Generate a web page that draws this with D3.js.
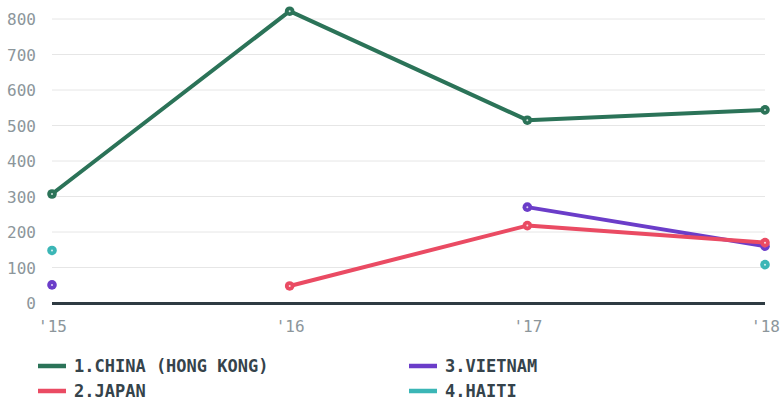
<!DOCTYPE html>
<html>
<head>
<meta charset="utf-8">
<script src="https://cdn.jsdelivr.net/npm/d3@7"></script>
<style>
  body { margin: 0; background: #fff; }
  svg { display: block; }
  .tick text { font-family: "DejaVu Sans Mono", monospace; fill: #8c969b; }
  .legend text { font-family: "DejaVu Sans Mono", monospace; font-weight: bold; fill: #35434b; }
</style>
</head>
<body>
<div id="chart"></div>
<script>
const width = 780;
const height = 403;

// years on the x axis
const years = [2015, 2016, 2017, 2018];
const yearLabels = ["'15", "'16", "'17", "'18"];
const yTicks = [0, 100, 200, 300, 400, 500, 600, 700, 800];

// series values, null = no data
const china = [307, 822, 515, 544];
const japan = [null, 48, 218, 170];
const vietnam = [51, null, 270, 160];
const haiti = [148, null, null, 108];

const seriesNames = ["1.CHINA (HONG KONG)", "2.JAPAN", "3.VIETNAM", "4.HAITI"];
const seriesColors = ["#2b7358", "#ea4b63", "#6b3dc9", "#3bb6b6"];

const series = [
  { name: seriesNames[0], color: seriesColors[0], values: china },
  { name: seriesNames[1], color: seriesColors[1], values: japan },
  { name: seriesNames[2], color: seriesColors[2], values: vietnam },
  { name: seriesNames[3], color: seriesColors[3], values: haiti }
];

const margin = { left: 52, right: 15, top: 19, bottom: 100 };

const x = d3.scalePoint()
  .domain(years)
  .range([margin.left, width - margin.right]);

const y = d3.scaleLinear()
  .domain([0, 800])
  .range([303, 19]);

const svg = d3.select('#chart')
  .append('svg')
  .attr('width', width)
  .attr('height', height);

// grid lines
svg.append('g')
  .selectAll('line')
  .data(yTicks.filter(d => d > 0))
  .join('line')
  .attr('x1', x(2015))
  .attr('x2', x(2018))
  .attr('y1', d => y(d))
  .attr('y2', d => y(d))
  .attr('stroke', '#e6e6e6')
  .attr('stroke-width', 1);

// y axis labels
const yAxis = svg.append('g')
  .attr('transform', `translate(${x(2015) - 16},0)`)
  .call(d3.axisLeft(y).tickValues(yTicks).tickSize(0).tickPadding(0));
yAxis.select('.domain').remove();
yAxis.selectAll('text').attr('font-size', 16).attr('dy', '0.35em');

// x axis labels
const xAxis = svg.append('g')
  .attr('transform', `translate(0,${y(0) + 18})`)
  .call(d3.axisBottom(x).tickFormat((d, i) => yearLabels[i]).tickSize(0).tickPadding(0));
xAxis.select('.domain').remove();
xAxis.selectAll('text').attr('font-size', 16).attr('dy', '0.7em');

// baseline
svg.append('line')
  .attr('x1', x(2015))
  .attr('x2', x(2018))
  .attr('y1', y(0) + 0.5)
  .attr('y2', y(0) + 0.5)
  .attr('stroke', '#2f3b42')
  .attr('stroke-width', 3);

const line = d3.line()
  .defined(d => d != null)
  .x((d, i) => x(years[i]))
  .y(d => y(d));

// draw the series, later ones below earlier ones like the picture (japan over vietnam)
const drawOrder = [3, 2, 1, 0];
drawOrder.forEach(k => {
  const s = series[k];
  svg.append('path')
    .datum(s.values)
    .attr('fill', 'none')
    .attr('stroke', s.color)
    .attr('stroke-width', 4)
    .attr('stroke-linejoin', 'round')
    .attr('d', line);

  const pts = s.values
    .map((v, i) => ({ v: v, year: years[i] }))
    .filter(d => d.v != null);

  const g = svg.append('g');
  g.selectAll('circle.dot')
    .data(pts)
    .join('circle')
    .attr('class', 'dot')
    .attr('cx', d => x(d.year))
    .attr('cy', d => y(d.v))
    .attr('r', 4.8)
    .attr('fill', s.color);
  // tiny white center
  g.selectAll('circle.center')
    .data(pts)
    .join('circle')
    .attr('class', 'center')
    .attr('cx', d => x(d.year))
    .attr('cy', d => y(d.v))
    .attr('r', 1)
    .attr('fill', '#fff')
    .attr('opacity', 0.8);
});

// legend
const legendPos = [[38, 366], [38, 391], [409, 366], [409, 391]];
const legend = svg.append('g').attr('class', 'legend');
series.forEach((s, i) => {
  const [lx, ly] = legendPos[i];
  legend.append('line')
    .attr('x1', lx)
    .attr('x2', lx + 28)
    .attr('y1', ly)
    .attr('y2', ly)
    .attr('stroke', s.color)
    .attr('stroke-width', 4.5);
  legend.append('text')
    .attr('x', lx + 36)
    .attr('y', ly)
    .attr('dy', '0.36em')
    .attr('font-size', 17)
    .text(s.name);
});
</script>
</body>
</html>
